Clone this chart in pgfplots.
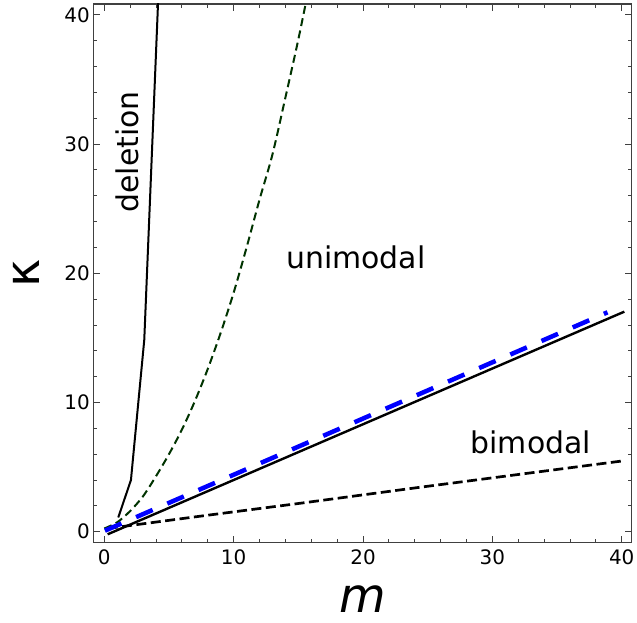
\documentclass[border=0pt]{standalone}
\usepackage{fontspec}
\setmainfont{DejaVu Sans}
\usepackage{pgfplots}
\pgfplotsset{compat=1.18}
\definecolor{dgreen}{rgb}{0,0.2,0}
\begin{document}
\begin{tikzpicture}
\path[use as bounding box] (0,0) rectangle (637bp,623bp);
\begin{axis}[
 at={(93.3bp,80.3bp)}, anchor=south west,
 scale only axis, width=538.4bp, height=538.7bp,
 xmin=-0.85, xmax=40.77, ymin=-0.85, ymax=40.84,
 xtick={0,10,20,30,40}, ytick={0,10,20,30,40},
 minor tick num=4,
 tick align=inside,
 major tick length=7bp, minor tick length=4bp,
 every tick/.style={black!75, line width=0.9bp},
 axis line style={black!75, line width=1.3bp},
 tick label style={font=\fontsize{20}{24}\selectfont},
 /pgf/number format/assume math mode=true,
 xticklabel style={yshift=-3.6bp},
 xlabel={\textit{m}}, ylabel={κ},
 label style={font=\fontsize{48}{56}\selectfont},
 xlabel style={at={(axis description cs:0.501,-0.130)}, anchor=base, inner sep=0pt},
 ylabel style={at={(axis description cs:-0.125,0.5)}, anchor=center},
 clip=true,
]
% deletion boundary
\addplot[black, line width=2bp] coordinates {(1.08,1.1) (2.06,4.0) (3.09,14.85) (4.15,40.8) (4.2,42)};
% unimodal boundary (dark green dashed)
\addplot[dgreen, line width=2bp, dash pattern=on 8bp off 4.5bp, smooth] coordinates {
(0,0.25) (1,0.73) (2,1.6) (3,2.75) (4,4.3) (5,6.0) (6,7.9) (7,10.1) (8,12.6) (9,15.4) (10,18.5) (11,22.0) (12,25.7) (13,29.2) (14,33.6) (15,38.1) (16,43)};
% bimodal boundary (black dashed)
\addplot[black, line width=2.7bp, dash pattern=on 10bp off 4.5bp] coordinates {(0.26,0.25) (7.4,1.2) (15.13,2.2) (24.4,3.44) (40,5.47)};
% solid threshold line
\addplot[black, line width=2.4bp] coordinates {(0.26,-0.2) (40.2,17.03)};
% blue thick dashed
\addplot[blue, line width=4.5bp, dash pattern=on 18bp off 16bp] coordinates {(0.05,0.08) (38.9,16.98)};
\node[rotate=90, font=\fontsize{30}{36}\selectfont] at (axis cs:1.75,29.4) {deletion};
\node[anchor=base, font=\fontsize{30}{36}\selectfont] at (axis cs:19.45,20.4) {unimodal};
\node[anchor=base, font=\fontsize{30}{36}\selectfont] at (axis cs:32.97,6.07) {bimodal};
\end{axis}
\end{tikzpicture}
\end{document}
